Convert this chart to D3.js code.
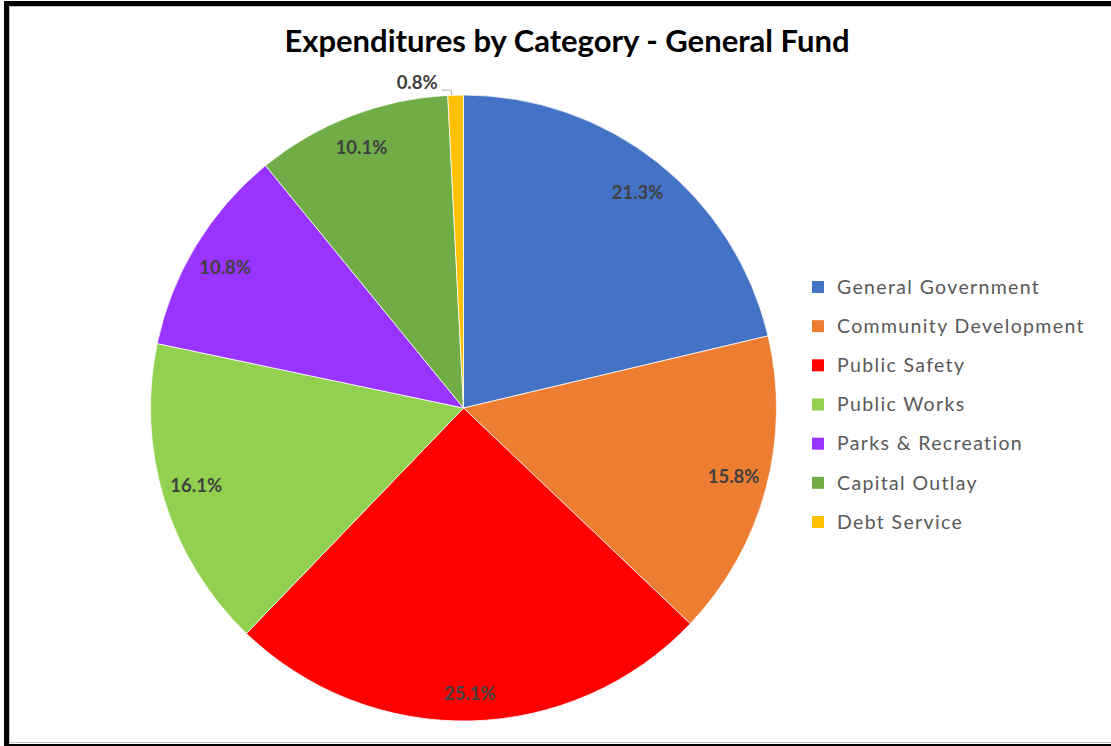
<!DOCTYPE html>
<html>
<head>
<meta charset="utf-8">
<script src="https://cdn.jsdelivr.net/npm/d3@7"></script>
<style>
  html, body { margin: 0; padding: 0; background: #fff; }
  svg { display: block; }
</style>
</head>
<body>
<svg id="chart" width="1111" height="746"></svg>
<script>
// Expenditure categories, General Fund (share of total, %)
const categories = [
  "General Government",
  "Community Development",
  "Public Safety",
  "Public Works",
  "Parks & Recreation",
  "Capital Outlay",
  "Debt Service"
];
const shares = [21.3, 15.8, 25.1, 16.1, 10.8, 10.1, 0.8];
const colors = ["#4472C4", "#ED7D31", "#FF0000", "#92D050", "#9933FF", "#70AD47", "#FFC000"];
const titleText = "Expenditures by Category - General Fund";

const svg = d3.select("#chart");
const FONT = "Lato, 'Open Sans', sans-serif";

// frame
svg.append("rect")
  .attr("x", 6.5).attr("y", 3.5)
  .attr("width", 1300).attr("height", 743)
  .attr("fill", "none").attr("stroke", "#000").attr("stroke-width", 5);
svg.append("rect")
  .attr("x", 9.5).attr("y", 6.5)
  .attr("width", 1300).attr("height", 736)
  .attr("fill", "none").attr("stroke", "#bfbfbf").attr("stroke-width", 1);

// title
svg.append("text")
  .attr("x", 567).attr("y", 52)
  .attr("text-anchor", "middle")
  .attr("font-family", FONT)
  .attr("font-weight", 700)
  .attr("font-size", 31)
  .attr("fill", "#000")
  .text(titleText);

const data = categories.map((c, i) => ({ name: c, value: shares[i], color: colors[i] }));

const cx = 463.5, cy = 408, R = 313;
const pie = d3.pie().sort(null).value(d => d.value);
const arcs = pie(data);
const arc = d3.arc().innerRadius(0).outerRadius(R);

const g = svg.append("g").attr("transform", `translate(${cx},${cy})`);

g.selectAll("path.slice")
  .data(arcs)
  .join("path")
  .attr("class", "slice")
  .attr("d", arc)
  .attr("fill", d => d.data.color)
  .attr("stroke", "#fff")
  .attr("stroke-width", 0.75);

const fmt = d => d.toFixed(1) + "%";

// labels sit at the inside end of each slice; very small slices get an outside label with a leader
const small = arcs.filter(d => d.data.value < 2);
const big = arcs.filter(d => d.data.value >= 2);

const LIMIT = 303;   // farthest label-box corner from the centre
const BOX_H = 24;
const PULL = 4.5;    // extra vertical inset toward the centre

g.selectAll("text.val")
  .data(big)
  .join("text")
  .attr("class", "val")
  .attr("text-anchor", "middle")
  .attr("dy", "0.35em")
  .attr("font-family", FONT)
  .attr("font-weight", 700)
  .attr("font-size", 18.5)
  .attr("fill", "#404040")
  .text(d => fmt(d.data.value))
  .attr("transform", function(d) {
    const mid = (d.startAngle + d.endAngle) / 2;
    const s = Math.abs(Math.sin(mid)), c = Math.abs(Math.cos(mid));
    const A = this.getComputedTextLength() * 0.4, B = BOX_H / 2;
    const k = s * A + c * B;
    const dist = -k + Math.sqrt(k * k - (A * A + B * B - LIMIT * LIMIT));
    const x = dist * Math.sin(mid);
    let y = -dist * Math.cos(mid);
    y -= Math.sign(y) * PULL;
    return `translate(${x},${y})`;
  });

small.forEach(d => {
  const mid = (d.startAngle + d.endAngle) / 2;
  const ex = R * Math.sin(mid), ey = -R * Math.cos(mid);
  const lx = ex - 14, ly = ey - 5;
  g.append("path")
    .attr("d", `M${lx},${ly} L${ex - 6},${ly} Q${ex - 4},${ly} ${ex - 4},${ly + 2} L${ex - 4},${ey}`)
    .attr("fill", "none")
    .attr("stroke", "#a6a6a6")
    .attr("stroke-width", 1);
  g.append("text")
    .attr("x", lx - 4).attr("y", ly - 8)
    .attr("text-anchor", "end")
    .attr("dy", "0.35em")
    .attr("font-family", FONT)
    .attr("font-weight", 700)
    .attr("font-size", 18.5)
    .attr("fill", "#404040")
    .text(fmt(d.data.value));
});

// legend
const legendY = d3.scalePoint().domain(categories).range([287, 522]);
const lg = svg.append("g");
const items = lg.selectAll("g.item")
  .data(data)
  .join("g")
  .attr("class", "item")
  .attr("transform", d => `translate(812,${legendY(d.name)})`);
items.append("rect")
  .attr("x", 0).attr("y", -6)
  .attr("width", 12).attr("height", 12)
  .attr("fill", d => d.color);
items.append("text")
  .attr("x", 25)
  .attr("dy", "0.35em")
  .attr("font-family", FONT)
  .attr("font-size", 19.5)
  .attr("letter-spacing", 1.35)
  .attr("fill", "#595959")
  .text(d => d.name);
</script>
</body>
</html>
